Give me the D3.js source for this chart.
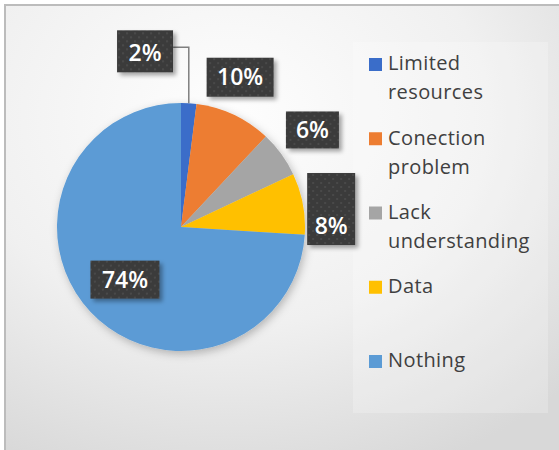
<!DOCTYPE html>
<html>
<head>
<meta charset="utf-8">
<script src="https://cdn.jsdelivr.net/npm/d3@7"></script>
<style>
  body { margin: 0; background: #ffffff; }
  svg { display: block; }
</style>
</head>
<body>
<div id="chart"></div>
<script>
// chart data
const categories = ["Limited resources", "Conection problem", "Lack understanding", "Data", "Nothing"];
const legendLines = [["Limited", "resources"], ["Conection", "problem"], ["Lack", "understanding"], ["Data"], ["Nothing"]];
const values = [2, 10, 6, 8, 74];
const labels = ["2%", "10%", "6%", "8%", "74%"];
const colors = ["#3a6dc9", "#ed7d31", "#a5a5a5", "#ffc000", "#5b9bd5"];

const width = 559;
const height = 450;

const svg = d3.select("#chart")
  .append("svg")
  .attr("width", width)
  .attr("height", height);

const defs = svg.append("defs");

// background gradient like the office chart area
const bg = defs.append("radialGradient")
  .attr("id", "bg")
  .attr("cx", "40%").attr("cy", "25%").attr("r", "85%");
bg.append("stop").attr("offset", "0%").attr("stop-color", "#fefefe");
bg.append("stop").attr("offset", "55%").attr("stop-color", "#f0f0f0");
bg.append("stop").attr("offset", "100%").attr("stop-color", "#d8d8d8");

const shadow = defs.append("filter").attr("id", "shadow")
  .attr("x", "-20%").attr("y", "-20%").attr("width", "140%").attr("height", "140%");
shadow.append("feDropShadow")
  .attr("dx", 2).attr("dy", 3).attr("stdDeviation", 4)
  .attr("flood-color", "#000").attr("flood-opacity", 0.25);

const boxShadow = defs.append("filter").attr("id", "boxShadow")
  .attr("x", "-20%").attr("y", "-20%").attr("width", "150%").attr("height", "150%");
boxShadow.append("feDropShadow")
  .attr("dx", 3).attr("dy", 3).attr("stdDeviation", 2)
  .attr("flood-color", "#000").attr("flood-opacity", 0.35);

// dotted dark pattern of the data label boxes
const dots = defs.append("pattern").attr("id", "dots")
  .attr("width", 8).attr("height", 8).attr("patternUnits", "userSpaceOnUse");
dots.append("rect").attr("width", 8).attr("height", 8).attr("fill", "#3b3b3b");
dots.append("circle").attr("cx", 2).attr("cy", 2).attr("r", 1).attr("fill", "#4d4d4d");
dots.append("circle").attr("cx", 6).attr("cy", 6).attr("r", 1).attr("fill", "#4d4d4d");

svg.append("rect")
  .attr("x", 5).attr("y", 5)
  .attr("width", width).attr("height", height)
  .attr("fill", "url(#bg)")
  .attr("stroke", "#bcbcbc")
  .attr("stroke-width", 2);

// legend panel
svg.append("rect")
  .attr("x", 353).attr("y", 42)
  .attr("width", 195).attr("height", 371)
  .attr("fill", "#ffffff").attr("opacity", 0.22);

// pie
const cx = 181, cy = 227, radius = 124;
const g = svg.append("g").attr("transform", `translate(${cx},${cy})`);

const pie = d3.pie().sort(null).value(d => d)(values);
const arc = d3.arc().innerRadius(0).outerRadius(radius);
const labelArc = d3.arc().innerRadius(160).outerRadius(160);
const innerArc = d3.arc().innerRadius(radius * 0.62).outerRadius(radius * 0.62);

g.append("g").attr("filter", "url(#shadow)")
  .selectAll("path")
  .data(pie)
  .enter().append("path")
  .attr("d", arc)
  .attr("fill", (d, i) => colors[i]);

// label box layout: nudge from arc position, box size, text offset in box
const labelStyle = [
  { dx: -46, dy: -16, w: 56, h: 42, ty: 4 },
  { dx: -9, dy: -5, w: 67, h: 39, ty: 2 },
  { dx: 2, dy: -3, w: 53, h: 37, ty: 2 },
  { dx: -7, dy: 12, w: 48, h: 72, ty: 19 },
  { dx: 0, dy: 0, w: 69, h: 38, ty: 2 }
];

const labelPos = pie.map((d, i) => {
  const c = i === 4 ? innerArc.centroid(d) : labelArc.centroid(d);
  return [c[0] + labelStyle[i].dx, c[1] + labelStyle[i].dy];
});

// leader line for the small slice
const p0 = labelPos[0];
const edge = d3.arc().innerRadius(radius).outerRadius(radius).centroid(pie[0]);
g.append("polyline")
  .attr("points", [
    [p0[0] + labelStyle[0].w / 2, p0[1] - 4],
    [edge[0], p0[1] - 4],
    [edge[0], edge[1]]
  ].map(p => p.join(",")).join(" "))
  .attr("fill", "none")
  .attr("stroke", "#7f7f7f")
  .attr("stroke-width", 1.5);

const lbl = g.selectAll(".lbl")
  .data(pie)
  .enter().append("g")
  .attr("class", "lbl")
  .attr("transform", (d, i) => `translate(${labelPos[i][0]},${labelPos[i][1]})`);

lbl.append("rect")
  .attr("x", (d, i) => -labelStyle[i].w / 2)
  .attr("y", (d, i) => -labelStyle[i].h / 2)
  .attr("width", (d, i) => labelStyle[i].w)
  .attr("height", (d, i) => labelStyle[i].h)
  .attr("fill", "url(#dots)")
  .attr("filter", "url(#boxShadow)");

lbl.append("text")
  .attr("y", (d, i) => labelStyle[i].ty)
  .attr("text-anchor", "middle")
  .attr("dominant-baseline", "middle")
  .attr("fill", "#ffffff")
  .style("font-family", "'Open Sans', sans-serif")
  .style("font-weight", "600")
  .style("font-size", "23px")
  .text((d, i) => labels[i]);

// legend
const legendY = d3.scalePoint()
  .domain(categories)
  .range([65, 362]);

const leg = svg.selectAll(".leg")
  .data(categories)
  .enter().append("g")
  .attr("class", "leg")
  .attr("transform", d => `translate(369,${legendY(d)})`);

leg.append("rect")
  .attr("x", 0).attr("y", -7)
  .attr("width", 13).attr("height", 13)
  .attr("fill", (d, i) => colors[i]);

leg.append("text")
  .attr("x", 19)
  .attr("fill", "#404040")
  .style("font-family", "'Open Sans', sans-serif")
  .style("font-size", "20px")
  .style("letter-spacing", "0.4px")
  .selectAll("tspan")
  .data((d, i) => legendLines[i])
  .enter().append("tspan")
  .attr("x", 19)
  .attr("y", (d, j) => j * 29)
  .attr("dominant-baseline", "middle")
  .text(d => d);
</script>
</body>
</html>
